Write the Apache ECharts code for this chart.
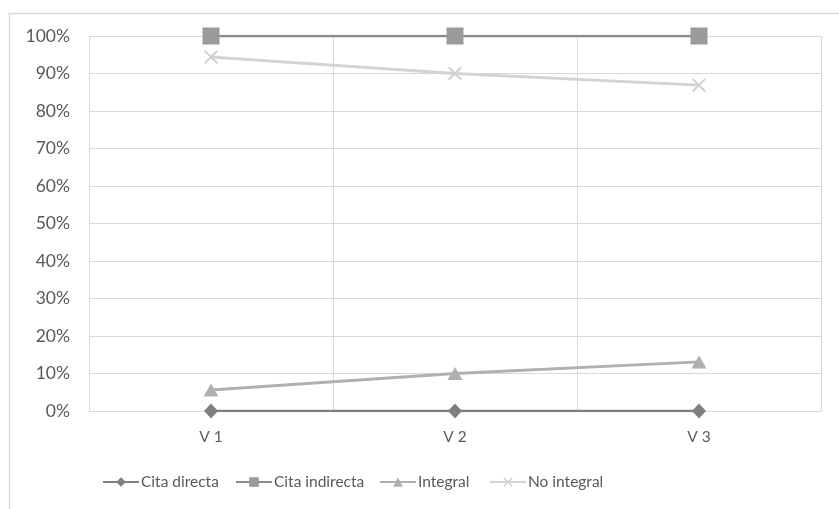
<!DOCTYPE html>
<html><head><meta charset="utf-8">
<script src="https://cdn.jsdelivr.net/npm/echarts@6/dist/echarts.min.js"></script>
<style>html,body{margin:0;padding:0;background:#fff}#c{width:839px;height:509px}</style>
</head><body><div id="c"></div>
<script>
const categories = ['V 1', 'V 2', 'V 3'];
const citaDirecta = [0, 0, 0];
const citaIndirecta = [1, 1, 1];
const integral = [0.056, 0.10, 0.131];
const noIntegral = [0.944, 0.90, 0.869];
const seriesNames = ['Cita directa', 'Cita indirecta', 'Integral', 'No integral'];
const yTicks = [0, 0.1, 0.2, 0.3, 0.4, 0.5, 0.6, 0.7, 0.8, 0.9, 1];

const FONT = 'Lato';
const xSymbol = 'path://M0,1L1,0L5,4L9,0L10,1L6,5L10,9L9,10L5,6L1,10L0,9L4,5Z';
const legendLefts = [97, 230, 374, 484];
const chart = echarts.init(document.getElementById('c'));
chart.setOption({
  animation: false,
  textStyle: {fontFamily: FONT},
  graphic: [{type: 'rect', left: 7, top: 11, shape: {width: 900, height: 600}, style: {fill: 'none', stroke: '#d9d9d9', lineWidth: 1.5}, silent: true}],
  grid: {left: 89, right: 18, top: 36, bottom: 98},
  legend: seriesNames.map((n, i) => ({
    left: legendLefts[i], top: 469, itemWidth: 36, itemHeight: 12, itemGap: 0,
    textStyle: {fontFamily: FONT, fontSize: 15.5, color: '#595959', padding: [0, 0, 0, -3]},
    data: [n]
  })),
  xAxis: {
    type: 'category', data: categories, boundaryGap: true,
    axisLine: {lineStyle: {color: '#d9d9d9', width: 1}},
    axisTick: {show: false},
    axisLabel: {color: '#595959', fontSize: 15.5, margin: 18},
    splitLine: {show: true, interval: 0, lineStyle: {color: '#d9d9d9', width: 1}}
  },
  yAxis: {
    type: 'value', min: yTicks[0], max: yTicks[yTicks.length - 1], interval: 0.1,
    axisLine: {show: false}, axisTick: {show: false},
    axisLabel: {color: '#595959', fontSize: 17.5, margin: 19, formatter: v => Math.round(v * 100) + '%'},
    splitLine: {lineStyle: {color: '#d9d9d9', width: 1}}
  },
  series: [
    {name: seriesNames[0], type: 'line', data: citaDirecta, symbol: 'diamond', symbolSize: [14, 15],
     itemStyle: {color: '#7f7f7f'}, lineStyle: {color: '#7f7f7f', width: 2.5}, z: 4},
    {name: seriesNames[1], type: 'line', data: citaIndirecta, symbol: 'rect', symbolSize: 17,
     itemStyle: {color: '#9b9b9b'}, lineStyle: {color: '#8a8a8a', width: 2.5}, z: 3},
    {name: seriesNames[2], type: 'line', data: integral, symbol: 'triangle', symbolSize: [15, 13],
     itemStyle: {color: '#b0b0b0'}, lineStyle: {color: '#b0b0b0', width: 3}, z: 2},
    {name: seriesNames[3], type: 'line', data: noIntegral, symbol: xSymbol, symbolSize: 14,
     itemStyle: {color: '#d0d0d0'}, lineStyle: {color: '#d3d3d3', width: 3}, z: 1}
  ]
});
</script></body></html>
